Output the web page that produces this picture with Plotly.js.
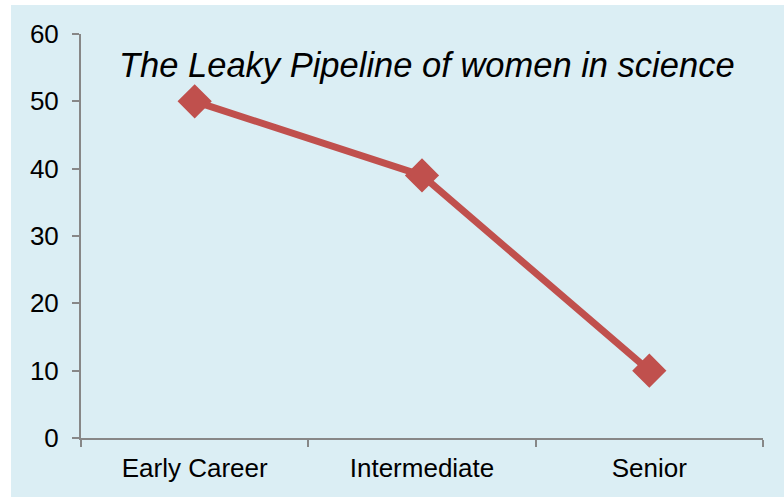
<!DOCTYPE html>
<html><head><meta charset="utf-8">
<script src="https://cdn.plot.ly/plotly-3.0.1.min.js"></script>
<style>html,body{margin:0;padding:0;background:#fff;}</style>
</head><body><div id="chart" style="width:784px;height:497px;"></div>
<script>
const categories = ["Early Career", "Intermediate", "Senior"];
const values = [50, 39, 10];
const yTicks = [0, 10, 20, 30, 40, 50, 60];
const titleText = "The Leaky Pipeline of women in science";

const bg = "#dbeef4";
const axisColor = "#878787";
const red = "#c0504d";

const trace = {
  x: categories, y: values, type: "scatter", mode: "lines+markers",
  line: {color: red, width: 7},
  marker: {symbol: "diamond", size: 22, color: red, line: {color: red, width: 4}},
  hoverinfo: "skip", cliponaxis: false
};

const layout = {
  width: 784, height: 497,
  margin: {l: 81, r: 21, t: 34, b: 59},
  paper_bgcolor: "#ffffff", plot_bgcolor: bg,
  font: {family: "Liberation Sans, Arial, sans-serif", color: "#000", size: 26},
  showlegend: false,
  xaxis: {
    type: "category", tickson: "boundaries", range: [-0.5, 2.5],
    showline: true, linecolor: axisColor, linewidth: 2,
    ticks: "outside", ticklen: 7, tickcolor: axisColor, tickwidth: 2,
    showgrid: false, zeroline: false, tickfont: {size: 26}, ticklabelstandoff: 6
  },
  yaxis: {
    range: [0, 60], tickvals: yTicks, ticktext: yTicks.map(String),
    showline: true, linecolor: axisColor, linewidth: 2,
    ticks: "outside", ticklen: 7, tickcolor: axisColor, tickwidth: 2,
    showgrid: false, zeroline: false, tickfont: {size: 26}, ticklabelstandoff: 8
  },
  shapes: [{
    type: "rect", xref: "paper", yref: "paper", layer: "below",
    x0: -0.1026, x1: 1.04, y0: -0.16, y1: 1.0718,
    fillcolor: bg, line: {width: 0}
  }],
  annotations: [{
    text: "<i>" + titleText + "</i>", xref: "paper", yref: "paper",
    x: 0.508, y: 0.924, xanchor: "center", yanchor: "middle", showarrow: false,
    font: {size: 34.5, color: "#000"}
  }]
};

Plotly.newPlot("chart", [trace], layout, {displayModeBar: false, staticPlot: true});
</script></body></html>
